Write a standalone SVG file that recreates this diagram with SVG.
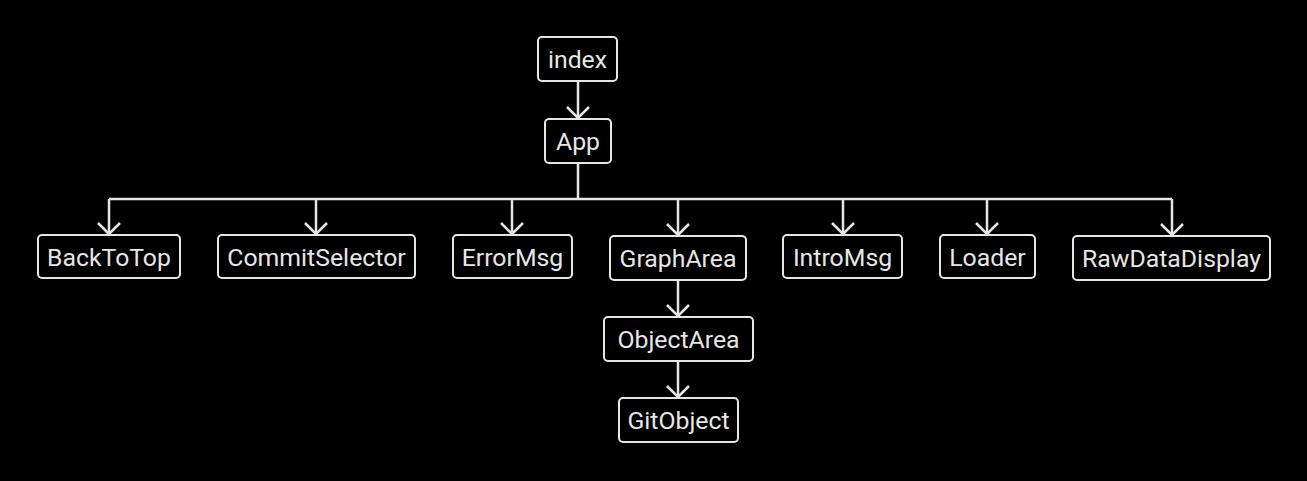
<svg xmlns="http://www.w3.org/2000/svg" width="1307" height="481" viewBox="0 0 1307 481">
<style>
.node rect{fill:#000;stroke:#e6e6e6;stroke-width:2}
.node text{fill:#e6e6e6;font-family:Roboto,"Liberation Sans",sans-serif;font-size:24.8px;text-anchor:middle}
.edges path{fill:none;stroke:#e6e6e6;stroke-width:2.5}
</style>
<defs>
<marker id="arr" viewBox="0 0 14 24" refX="12" refY="12" markerWidth="14" markerHeight="24" markerUnits="userSpaceOnUse" orient="auto">
<path d="M1,1 L12,12 L1,23" fill="none" stroke="#e6e6e6" stroke-width="2.5"/>
</marker>
</defs>
<rect width="1307" height="481" fill="#000"/>
<g class="edges">
<path d="M578,81 V118" marker-end="url(#arr)"/>
<path d="M578,163 V199"/>
<path d="M109,199 H1172"/>
<path d="M109,199 V234" marker-end="url(#arr)"/>
<path d="M316,199 V234" marker-end="url(#arr)"/>
<path d="M512,199 V234" marker-end="url(#arr)"/>
<path d="M678,199 V235" marker-end="url(#arr)"/>
<path d="M843,199 V234" marker-end="url(#arr)"/>
<path d="M987,199 V234" marker-end="url(#arr)"/>
<path d="M1172,199 V235" marker-end="url(#arr)"/>
<path d="M678,281 V316" marker-end="url(#arr)"/>
<path d="M678,362 V397" marker-end="url(#arr)"/>
</g>
<g id="index" class="node"><rect x="538" y="37" width="79" height="44" rx="4"/><text x="577.5" y="68">index</text></g>
<g id="App" class="node"><rect x="545" y="119" width="66" height="44" rx="4"/><text x="578" y="150">App</text></g>
<g id="BackToTop" class="node"><rect x="38" y="235" width="142" height="43" rx="4"/><text x="109" y="265.5">BackToTop</text></g>
<g id="CommitSelector" class="node"><rect x="218" y="235" width="197" height="43" rx="4"/><text x="316.5" y="265.5">CommitSelector</text></g>
<g id="ErrorMsg" class="node"><rect x="453" y="235" width="119" height="43" rx="4"/><text x="512.5" y="265.5">ErrorMsg</text></g>
<g id="GraphArea" class="node"><rect x="610" y="236" width="136" height="44" rx="4"/><text x="678" y="266.5">GraphArea</text></g>
<g id="IntroMsg" class="node"><rect x="783" y="235" width="119" height="43" rx="4"/><text x="842.5" y="265.5">IntroMsg</text></g>
<g id="Loader" class="node"><rect x="940" y="235" width="95" height="43" rx="4"/><text x="987.5" y="265.5">Loader</text></g>
<g id="RawDataDisplay" class="node"><rect x="1073" y="236" width="197" height="44" rx="4"/><text x="1171.5" y="266.5">RawDataDisplay</text></g>
<g id="ObjectArea" class="node"><rect x="604" y="317" width="149" height="44" rx="4"/><text x="678.5" y="347.5">ObjectArea</text></g>
<g id="GitObject" class="node"><rect x="619" y="398" width="119" height="44" rx="4"/><text x="678.5" y="428.5">GitObject</text></g>
</svg>
